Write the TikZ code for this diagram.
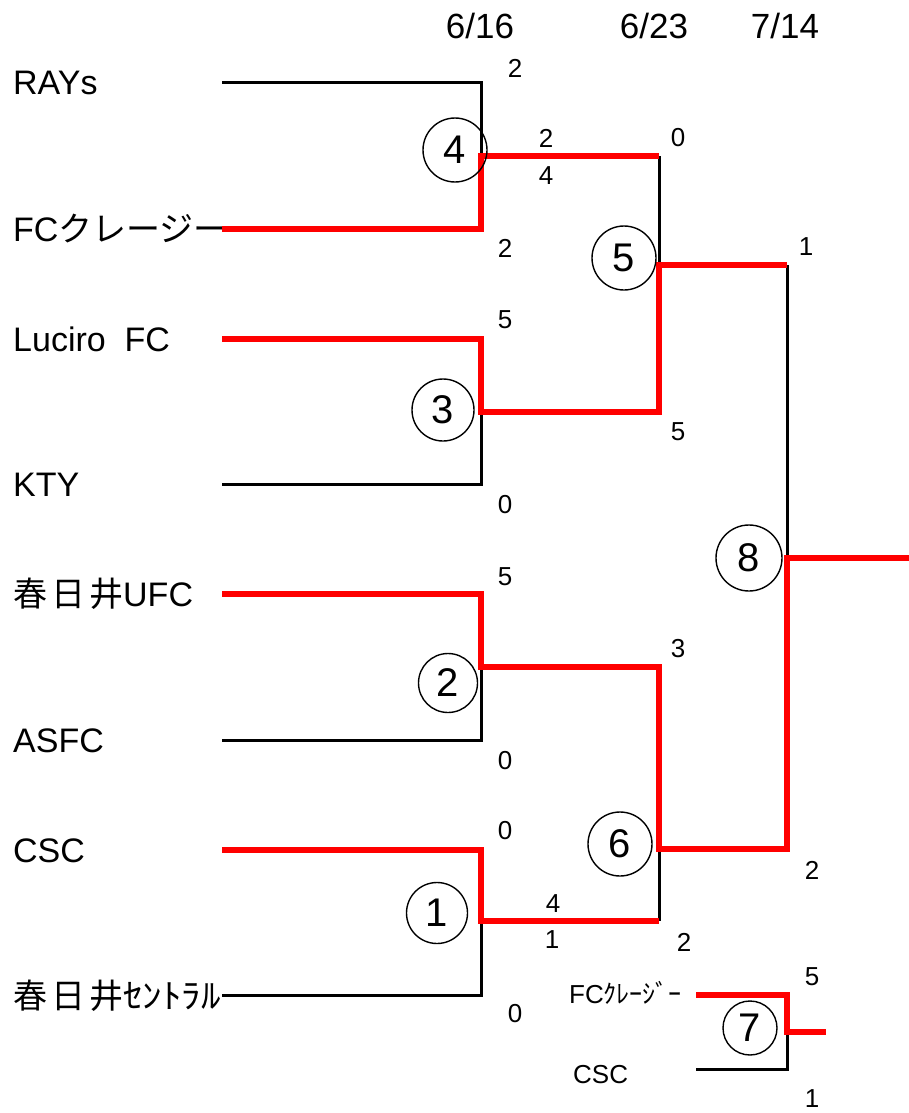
\documentclass[tikz,border=0pt]{standalone}
\usepackage{fontspec}
\usepackage{graphicx}
\setmainfont{Liberation Sans}
\newfontfamily\jp{Noto Sans CJK JP}
\definecolor{winred}{RGB}{255,0,0}
\begin{document}
\begin{tikzpicture}[x=1pt,y=-1pt,
 team/.style={anchor=base west,inner sep=0pt,font=\fontsize{34}{40}\selectfont},
 small/.style={anchor=base west,inner sep=0pt,font=\fontsize{26}{30}\selectfont},
 score/.style={inner sep=0pt,font=\fontsize{26}{30}\selectfont},
 datelbl/.style={inner sep=0pt,font=\fontsize{35}{40}\selectfont},
 matchno/.style={circle,draw,line width=1.4pt,inner sep=0pt,font=\fontsize{40}{44}\selectfont},
 loser/.style={line width=3pt,line join=miter,black},
 winner/.style={line width=6.5pt,line join=miter,winred}]
\useasboundingbox (0,0) rectangle (909,1113);

% dates
\node[datelbl] (d1) at (480,26) {6/16};
\node[datelbl] (d2) at (654,26) {6/23};
\node[datelbl] (d3) at (785,26) {7/14};

% team labels
\node[team] (n1) at (13,95) {RAYs};
\node[team] (n2) at (13,241) {FC{\jp クレージー}};
\node[team] (n3) at (13,351) {Luciro\ \ FC};
\node[team] (n4) at (13,496) {KTY};
\node[team] (n5) at (13,606) {{\jp 春\kern4pt 日\kern4pt 井}UFC};
\node[team] (n6) at (13,752) {ASFC};
\node[team] (n7) at (13,862) {CSC};
\node[team] (n8) at (13,1008) {{\jp 春\kern4pt 日\kern4pt 井\scalebox{1.15}[1]{ｾﾝﾄﾗﾙ}}};
\node[small] (n9) at (569,1003) {FC{\jp ｸﾚｰｼﾞｰ}};
\node[small] (n10) at (573,1083) {CSC};

% coordinates
\coordinate (a1) at (222,83);
\coordinate (a2) at (222,229);
\coordinate (a3) at (222,339);
\coordinate (a4) at (222,484);
\coordinate (a5) at (222,594);
\coordinate (a6) at (222,740);
\coordinate (a7) at (222,850);
\coordinate (a8) at (222,995);
\coordinate (b1) at (481,83);
\coordinate (b2) at (481,229);
\coordinate (b3) at (481,339);
\coordinate (b4) at (481,484);
\coordinate (b5) at (481,594);
\coordinate (b6) at (481,740);
\coordinate (b7) at (481,850);
\coordinate (b8) at (481,995);
\coordinate (m4) at (481,156);
\coordinate (m3) at (481,412);
\coordinate (m2) at (481,667);
\coordinate (m1) at (481,921);
\coordinate (c4) at (659,156);
\coordinate (c3) at (659,412);
\coordinate (c2) at (659,667);
\coordinate (c1) at (659,921);
\coordinate (m5) at (659,265);
\coordinate (m6) at (659,849);
\coordinate (e5) at (787,265);
\coordinate (e6) at (787,849);
\coordinate (m8) at (787,558);
\coordinate (f8) at (909,558);
\coordinate (g1) at (696,995);
\coordinate (g2) at (696,1069);
\coordinate (h1) at (787,995);
\coordinate (h2) at (787,1069);
\coordinate (m7) at (787,1032);
\coordinate (f7) at (826,1032);

% losing lines
\draw[loser] (a1) -- (b1) -- (m4);
\draw[loser] (c4) -- (m5);
\draw[loser] (a4) -- (b4) -- (m3);
\draw[loser] (a6) -- (b6) -- (m2);
\draw[loser] (a8) -- (b8) -- (m1);
\draw[loser] (c1) -- (m6);
\draw[loser] (e5) -- (m8);
\draw[loser] (g2) -- (h2) -- (m7);

% winning lines
\draw[winner] (a2) -- (b2) -- (m4) -- (c4);
\draw[winner] (a3) -- (b3) -- (m3) -- (c3) -- (m5) -- (e5);
\draw[winner] (a5) -- (b5) -- (m2) -- (c2) -- (m6) -- (e6) -- (m8) -- (f8);
\draw[winner] (a7) -- (b7) -- (m1) -- (c1);
\draw[winner] (g1) -- (h1) -- (m7) -- (f7);

% match numbers
\node[matchno,minimum size=64pt] (k4) at (455,150) {4};
\node[matchno,minimum size=64pt] (k5) at (624,258) {5};
\node[matchno,minimum size=62pt] (k3) at (443,410) {3};
\node[matchno,minimum size=59pt] (k2) at (448,683) {2};
\node[matchno,minimum size=66pt] (k8) at (749,558) {8};
\node[matchno,minimum size=64pt] (k6) at (620,844) {6};
\node[matchno,minimum size=61pt] (k1) at (437,913) {1};
\node[matchno,minimum size=54pt] (k7) at (750,1028) {7};

% scores
\node[score] (s1) at (515,68) {2};
\node[score] (s2) at (505,248) {2};
\node[score] (s3) at (546,138) {2};
\node[score] (s4) at (546,176) {4};
\node[score] (s5) at (678,138) {0};
\node[score] (s6) at (806,247) {1};
\node[score] (s7) at (505,320) {5};
\node[score] (s8) at (505,505) {0};
\node[score] (s9) at (678,432) {5};
\node[score] (s10) at (505,577) {5};
\node[score] (s11) at (505,761) {0};
\node[score] (s12) at (678,649) {3};
\node[score] (s13) at (505,831) {0};
\node[score] (s14) at (515,1014) {0};
\node[score] (s15) at (553,904) {4};
\node[score] (s16) at (552,940) {1};
\node[score] (s17) at (684,942) {2};
\node[score] (s18) at (812,870) {2};
\node[score] (s19) at (812,977) {5};
\node[score] (s20) at (812,1099) {1};
\end{tikzpicture}
\end{document}
